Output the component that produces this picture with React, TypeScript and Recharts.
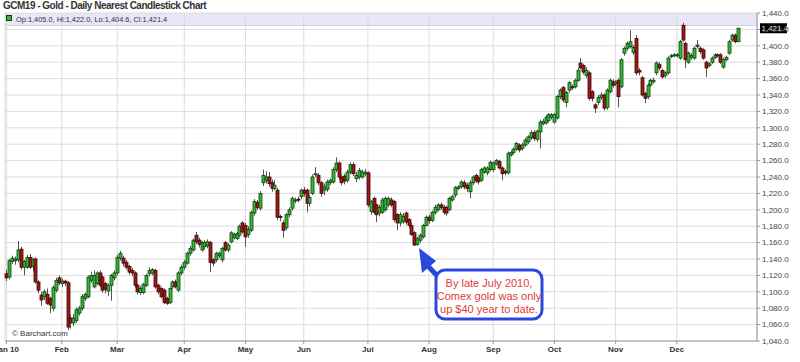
import React from 'react';
import { ComposedChart, Bar, XAxis, YAxis, CartesianGrid, ReferenceLine } from 'recharts';

// each candle: [open, high, low, close]
type Ohlc = [number, number, number, number];

const jan: Ohlc[] = [
  [1122, 1127, 1113, 1117], [1118, 1140, 1115, 1138], [1137, 1144, 1134, 1141], [1138, 1143, 1133, 1140],
  [1139, 1162, 1136, 1151], [1152, 1155, 1127, 1130], [1130, 1139, 1120, 1137], [1130, 1145, 1128, 1142],
  [1142, 1146, 1128, 1130], [1131, 1141, 1125, 1139], [1140, 1142, 1110, 1112], [1112, 1114, 1098, 1102],
  [1096, 1100, 1083, 1090], [1094, 1103, 1090, 1100], [1097, 1104, 1084, 1086], [1092, 1094, 1074, 1084],
  [1080, 1108, 1076, 1105], [1102, 1117, 1099, 1114], [1117, 1120, 1108, 1111],
];
const feb: Ohlc[] = [
  [1110, 1116, 1106, 1113], [1113, 1115, 1107, 1111], [1111, 1113, 1053, 1057], [1068, 1072, 1055, 1062],
  [1062, 1073, 1058, 1068], [1065, 1081, 1062, 1078], [1074, 1083, 1071, 1080], [1080, 1097, 1077, 1094],
  [1092, 1099, 1089, 1097], [1094, 1120, 1092, 1118], [1114, 1124, 1111, 1120], [1106, 1126, 1104, 1120],
  [1110, 1125, 1108, 1123], [1123, 1126, 1106, 1108], [1118, 1120, 1099, 1102], [1110, 1112, 1098, 1103],
  [1101, 1110, 1095, 1108], [1108, 1122, 1089, 1120], [1117, 1126, 1114, 1123],
];
const mar: Ohlc[] = [
  [1123, 1145, 1120, 1142], [1141, 1150, 1138, 1147], [1141, 1144, 1131, 1135], [1136, 1139, 1127, 1130],
  [1131, 1133, 1121, 1124], [1126, 1129, 1119, 1123], [1123, 1125, 1105, 1108], [1108, 1110, 1097, 1100],
  [1099, 1107, 1096, 1104], [1099, 1111, 1097, 1109], [1108, 1122, 1106, 1120], [1122, 1130, 1119, 1126],
  [1123, 1129, 1120, 1127], [1126, 1128, 1104, 1106], [1108, 1110, 1097, 1100], [1104, 1106, 1092, 1094],
  [1102, 1104, 1085, 1087], [1092, 1094, 1084, 1086], [1087, 1106, 1085, 1104], [1106, 1114, 1103, 1112],
  [1112, 1115, 1104, 1106], [1102, 1125, 1100, 1123], [1123, 1133, 1120, 1130],
];
const apr: Ohlc[] = [
  [1130, 1139, 1127, 1136], [1135, 1149, 1133, 1147], [1147, 1156, 1144, 1153], [1151, 1165, 1149, 1163],
  [1169, 1173, 1158, 1161], [1163, 1166, 1154, 1158], [1151, 1162, 1149, 1160], [1155, 1163, 1152, 1160],
  [1156, 1164, 1153, 1161], [1160, 1162, 1124, 1136], [1139, 1141, 1131, 1135], [1139, 1149, 1136, 1147],
  [1144, 1149, 1141, 1147], [1139, 1155, 1136, 1153], [1160, 1162, 1149, 1151], [1151, 1159, 1148, 1157],
  [1161, 1174, 1159, 1172], [1166, 1172, 1164, 1170], [1165, 1173, 1163, 1171], [1169, 1182, 1167, 1180],
  [1184, 1186, 1171, 1173],
];
const may: Ohlc[] = [
  [1181, 1184, 1155, 1167], [1170, 1180, 1166, 1176], [1175, 1199, 1173, 1197], [1196, 1213, 1193, 1210],
  [1209, 1212, 1200, 1203], [1202, 1223, 1199, 1220], [1233, 1249, 1229, 1242], [1236, 1247, 1232, 1240],
  [1240, 1246, 1228, 1232], [1233, 1237, 1222, 1226], [1226, 1236, 1224, 1230], [1224, 1227, 1188, 1191],
  [1192, 1194, 1186, 1191], [1184, 1187, 1166, 1175], [1178, 1196, 1175, 1194], [1194, 1203, 1191, 1200],
  [1202, 1216, 1199, 1214], [1211, 1215, 1208, 1212], [1213, 1216, 1209, 1212], [1216, 1226, 1213, 1224],
];
const jun: Ohlc[] = [
  [1224, 1228, 1216, 1220], [1224, 1226, 1197, 1208], [1208, 1218, 1204, 1215], [1220, 1243, 1218, 1240],
  [1243, 1252, 1240, 1244], [1242, 1245, 1230, 1233], [1233, 1235, 1216, 1220], [1224, 1232, 1218, 1228],
  [1225, 1237, 1222, 1234], [1233, 1238, 1230, 1236], [1234, 1252, 1232, 1249], [1249, 1264, 1246, 1257],
  [1257, 1259, 1237, 1240], [1240, 1243, 1230, 1233], [1241, 1244, 1231, 1235], [1236, 1249, 1233, 1246],
  [1246, 1258, 1243, 1255], [1255, 1258, 1241, 1244], [1238, 1246, 1234, 1242], [1240, 1251, 1237, 1248],
  [1240, 1249, 1238, 1246], [1244, 1250, 1241, 1246],
];
const jul: Ohlc[] = [
  [1245, 1247, 1203, 1206], [1198, 1212, 1194, 1210], [1214, 1216, 1195, 1197], [1206, 1208, 1185, 1194],
  [1196, 1206, 1192, 1203], [1197, 1215, 1195, 1212], [1200, 1216, 1198, 1214], [1206, 1216, 1203, 1214],
  [1212, 1215, 1203, 1206], [1210, 1212, 1185, 1188], [1194, 1196, 1175, 1184], [1184, 1197, 1180, 1194],
  [1186, 1196, 1183, 1192], [1196, 1198, 1182, 1185], [1188, 1190, 1178, 1181], [1181, 1184, 1168, 1170],
  [1172, 1174, 1156, 1157], [1158, 1167, 1156, 1165], [1163, 1171, 1160, 1169], [1167, 1183, 1165, 1181],
  [1181, 1193, 1180, 1191],
];
const aug: Ohlc[] = [
  [1191, 1194, 1183, 1187], [1187, 1199, 1185, 1197], [1197, 1206, 1194, 1203], [1200, 1208, 1198, 1206],
  [1206, 1209, 1200, 1203], [1203, 1206, 1194, 1197], [1203, 1205, 1193, 1196], [1200, 1216, 1198, 1214],
  [1212, 1218, 1210, 1216], [1218, 1229, 1215, 1227], [1226, 1230, 1224, 1228], [1228, 1236, 1226, 1234],
  [1233, 1236, 1225, 1228], [1230, 1233, 1222, 1226], [1222, 1236, 1214, 1233], [1233, 1242, 1230, 1240],
  [1242, 1244, 1233, 1236], [1239, 1241, 1231, 1234], [1236, 1251, 1234, 1249], [1246, 1253, 1244, 1251],
  [1245, 1253, 1242, 1251], [1249, 1260, 1247, 1258],
];
const sep: Ohlc[] = [
  [1249, 1259, 1246, 1257], [1256, 1262, 1254, 1260], [1259, 1261, 1249, 1251], [1251, 1253, 1236, 1244],
  [1247, 1249, 1242, 1245], [1245, 1271, 1243, 1269], [1267, 1272, 1265, 1270], [1270, 1276, 1268, 1274],
  [1274, 1283, 1272, 1281], [1279, 1281, 1270, 1273], [1275, 1282, 1272, 1279], [1279, 1288, 1277, 1285],
  [1283, 1291, 1280, 1289], [1288, 1297, 1285, 1294], [1294, 1297, 1284, 1287], [1286, 1298, 1283, 1296],
  [1295, 1310, 1275, 1307], [1305, 1311, 1303, 1308], [1306, 1315, 1304, 1313], [1309, 1318, 1307, 1316],
  [1313, 1318, 1310, 1316],
];
const oct: Ohlc[] = [
  [1307, 1318, 1305, 1316], [1312, 1340, 1310, 1338], [1338, 1348, 1335, 1346], [1349, 1351, 1331, 1334],
  [1331, 1345, 1325, 1343], [1346, 1357, 1343, 1355], [1350, 1353, 1346, 1349], [1350, 1360, 1348, 1358],
  [1358, 1373, 1356, 1370], [1379, 1385, 1371, 1373], [1376, 1378, 1365, 1368], [1364, 1374, 1361, 1370],
  [1367, 1369, 1333, 1336], [1344, 1346, 1332, 1336], [1328, 1330, 1318, 1324], [1331, 1340, 1328, 1337],
  [1337, 1343, 1334, 1340], [1340, 1342, 1321, 1324], [1325, 1348, 1322, 1346], [1344, 1360, 1342, 1358],
  [1356, 1359, 1349, 1352],
];
const nov: Ohlc[] = [
  [1354, 1358, 1351, 1356], [1358, 1360, 1325, 1338], [1350, 1385, 1348, 1383], [1391, 1399, 1388, 1397],
  [1397, 1405, 1394, 1403], [1399, 1419, 1397, 1405], [1392, 1401, 1389, 1398], [1409, 1413, 1364, 1367],
  [1370, 1373, 1364, 1368], [1361, 1363, 1338, 1340], [1342, 1344, 1330, 1336], [1338, 1354, 1335, 1352],
  [1352, 1360, 1350, 1358], [1356, 1361, 1354, 1358], [1367, 1381, 1364, 1379], [1377, 1380, 1370, 1373],
  [1370, 1372, 1360, 1362], [1364, 1369, 1361, 1367], [1367, 1387, 1365, 1385], [1387, 1390, 1385, 1388],
  [1388, 1391, 1386, 1389],
];
const dec: Ohlc[] = [
  [1388, 1391, 1386, 1389], [1385, 1407, 1383, 1405], [1425, 1428, 1405, 1407], [1403, 1405, 1373, 1383],
  [1380, 1393, 1378, 1391], [1386, 1391, 1383, 1388], [1385, 1399, 1383, 1397], [1399, 1407, 1397, 1401],
  [1397, 1399, 1390, 1393], [1395, 1397, 1383, 1385], [1380, 1382, 1362, 1373], [1376, 1380, 1374, 1378],
  [1380, 1387, 1378, 1385], [1386, 1391, 1384, 1389], [1389, 1391, 1386, 1388], [1389, 1391, 1378, 1380],
  [1374, 1385, 1372, 1383], [1383, 1388, 1381, 1386], [1391, 1407, 1389, 1405], [1407, 1415, 1405, 1413],
  [1413, 1415, 1403, 1405], [1405.0, 1422.0, 1404.6, 1421.4],
];

const months = [jan, feb, mar, apr, may, jun, jul, aug, sep, oct, nov, dec];
const monthLabels = ['Jan 10', 'Feb', 'Mar', 'Apr', 'May', 'Jun', 'Jul', 'Aug', 'Sep', 'Oct', 'Nov', 'Dec'];
const priceTicks = [1040, 1060, 1080, 1100, 1120, 1140, 1160, 1180, 1200, 1220, 1240, 1260, 1280, 1300, 1320, 1340, 1360, 1380, 1400, 1420, 1440];
const EMPTY_SLOTS = 6; // room left after the last session

const rows: any[] = [];
const monthStarts: number[] = [];
months.forEach((m) => {
  monthStarts.push(rows.length);
  m.forEach(([o, h, l, c]) => rows.push({ i: rows.length, o, h, l, c }));
});
for (let k = 0; k < EMPTY_SLOTS; k++) rows.push({ i: rows.length });

const last = dec[dec.length - 1];
const fmt = (v: number) => v.toLocaleString('en-US', { minimumFractionDigits: 1, maximumFractionDigits: 1 });
const FONT = '"Liberation Sans", Arial, sans-serif';
const UP = '#34b834';
const UP_EDGE = '#0f3f0f';
const DOWN = '#9f1a1a';
const DOWN_EDGE = '#3a0707';

const Candle = (props: any) => {
  const { x, y, width, height, payload } = props;
  if (!payload || payload.h == null) return null;
  const { o, h, l, c } = payload;
  const top = Math.min(y, y + height);
  const span = Math.abs(height);
  const k = span / (h - l || 1);
  const cx = Math.round(x + width / 2) + 0.5;
  const yo = top + (h - o) * k;
  const yc = top + (h - c) * k;
  const up = c >= o;
  const bTop = Math.min(yo, yc);
  const bH = Math.max(Math.abs(yc - yo), 1);
  return (
    <g>
      <line x1={cx} x2={cx} y1={top} y2={top + span} stroke="#555" strokeWidth={1} />
      <rect
        x={cx - 1.5}
        y={bTop}
        width={3}
        height={bH}
        fill={up ? UP : DOWN}
        stroke={up ? UP_EDGE : DOWN_EDGE}
        strokeWidth={0.8}
      />
    </g>
  );
};

const LastPrice = (props: any) => {
  const vb = props.viewBox || {};
  const x = vb.x + vb.width + 3;
  return (
    <g>
      <rect x={x} y={vb.y - 5} width={27} height={10} fill="#000" />
      <text x={x + 1.5} y={vb.y + 3} fill="#fff" fontSize={8} fontFamily={FONT}>
        {fmt(last[3])}
      </text>
    </g>
  );
};

export default function App() {
  return (
    <div style={{ position: 'absolute', left: 0, top: 0, width: 800, height: 362, background: '#fff', overflow: 'hidden', fontFamily: FONT }}>
      <div style={{ position: 'absolute', left: 5, top: 13, width: 752, height: 12, background: '#e7e7f7', borderBottom: '1px solid #d0d0e8' }} />
      <div style={{ position: 'absolute', left: 3, top: 0, fontSize: 10, fontWeight: 'bold', color: '#333', whiteSpace: 'nowrap', letterSpacing: -0.5 }}>
        GCM19 - Gold - Daily Nearest Candlestick Chart
      </div>
      <div style={{ position: 'absolute', left: 0, top: 0 }}>
        <ComposedChart width={800} height={362} data={rows} margin={{ top: 13, right: 0, bottom: 0, left: 5 }}>
          <CartesianGrid stroke="#dcdcdc" />
          <XAxis
            dataKey="i"
            type="category"
            ticks={monthStarts}
            interval={0}
            height={21}
            tickFormatter={(v: number) => monthLabels[monthStarts.indexOf(v)]}
            tick={{ fontSize: 8, fontWeight: 'bold', fill: '#333', fontFamily: FONT }}
            tickLine={{ stroke: '#999' }}
            tickSize={3}
            axisLine={{ stroke: '#999' }}
          />
          <YAxis
            orientation="right"
            width={43}
            domain={[1040, 1440]}
            ticks={priceTicks}
            interval={0}
            tickFormatter={fmt}
            tick={{ fontSize: 8, fill: '#444', fontFamily: FONT, textAnchor: 'start' }}
            tickLine={{ stroke: '#999' }}
            tickSize={3}
            axisLine={{ stroke: '#999' }}
          />
          <Bar
            dataKey={(d: any) => (d.h == null ? null : [d.l, d.h])}
            shape={<Candle />}
            isAnimationActive={false}
          />
          <ReferenceLine y={last[3]} stroke="none" ifOverflow="visible" label={<LastPrice />} />
        </ComposedChart>
      </div>
      <div style={{ position: 'absolute', left: 6, top: 15, width: 6, height: 6, background: UP, border: `1px solid ${UP_EDGE}`, boxSizing: 'border-box' }} />
      <div style={{ position: 'absolute', left: 16, top: 14.5, fontSize: 7.4, color: '#333', whiteSpace: 'nowrap' }}>
        {`Op:${fmt(last[0])}, Hi:${fmt(last[1])}, Lo:${fmt(last[2])}, Cl:${fmt(last[3])}`}
      </div>
      <svg width={800} height={362} style={{ position: 'absolute', left: 0, top: 0, pointerEvents: 'none' }}>
        <text x={12} y={336} fontSize={8} fill="#333" fontFamily={FONT}>© Barchart.com</text>
        <line x1={428} y1={266} x2={441} y2={280} stroke="#2a48dc" strokeWidth={5} />
        <polygon points="419,248 436,261 422,273" fill="#2a48dc" />
        <rect x={436} y={270} width={106} height={49} rx={9} fill="#fff" stroke="#2a48dc" strokeWidth={3} />
        <g fontSize={11} fill="#e03a3a" fontFamily={FONT} textAnchor="middle">
          <text x={489} y={287}>By late July 2010,</text>
          <text x={489} y={300}>Comex gold was only</text>
          <text x={489} y={313}>up $40 year to date.</text>
        </g>
      </svg>
    </div>
  );
}
